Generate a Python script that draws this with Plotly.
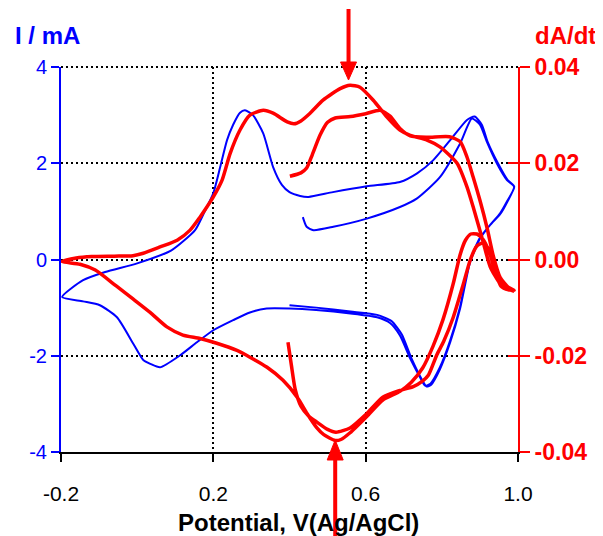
import plotly.graph_objects as go

# ---- data ----
# Cyclic voltammogram (blue, left axis, mA)
cv_potential = [0.435, 0.445, 0.463, 0.515, 0.603, 0.69, 0.735, 0.795, 0.848, 0.879,
                0.90, 0.918, 0.945, 0.971, 0.99, 0.972, 0.953, 0.927, 0.90, 0.874,
                0.848, 0.822, 0.795, 0.770, 0.756, 0.743, 0.717, 0.69, 0.664, 0.63,
                0.56, 0.47, 0.40, 0.34, 0.296, 0.252, 0.20, 0.157, 0.113, 0.06,
                0.035, 0.016, -0.011, -0.053, -0.098, -0.142, -0.197,
                -0.142, -0.084, 0.0, 0.09, 0.152, 0.175, 0.20, 0.218, 0.236,
                0.252, 0.27, 0.283, 0.304, 0.331, 0.357, 0.38, 0.40, 0.428, 0.45,
                0.514, 0.603, 0.69, 0.735, 0.777, 0.822, 0.866, 0.886, 0.905, 0.92,
                0.948, 0.973, 0.99, 0.972, 0.953, 0.927, 0.90, 0.874, 0.848, 0.822,
                0.795, 0.772, 0.760, 0.748, 0.72, 0.695, 0.668, 0.63, 0.56, 0.47, 0.40]
cv_current = [0.88, 0.68, 0.61, 0.68, 0.85, 1.09, 1.27, 1.71, 2.41, 2.93,
              2.80, 2.45, 1.99, 1.65, 1.51, 1.22, 0.96, 0.72, 0.45, -0.02,
              -0.98, -1.68, -2.24, -2.58, -2.62, -2.45, -2.06, -1.58, -1.32, -1.20,
              -1.12, -1.05, -1.02, -1.02, -1.10, -1.26, -1.47, -1.72, -1.99, -2.24,
              -2.17, -2.09, -1.74, -1.20, -0.95, -0.87, -0.78,
              -0.43, -0.26, -0.08, 0.19, 0.61, 0.96, 1.38, 1.92, 2.48,
              2.80, 3.05, 3.10, 3.00, 2.62, 1.92, 1.55, 1.40, 1.32, 1.30,
              1.40, 1.52, 1.61, 1.79, 2.06, 2.48, 2.90, 2.97, 2.80, 2.45,
              1.99, 1.65, 1.52, 1.20, 0.94, 0.72, 0.43, -0.06, -1.02, -1.72,
              -2.28, -2.60, -2.64, -2.50, -2.05, -1.56, -1.28, -1.15, -1.08, -1.00, -0.95]

# Derivative of absorbance (red, right axis)
da_potential = [0.401, 0.43, 0.445, 0.46, 0.48, 0.50, 0.52, 0.56, 0.60, 0.638,
                0.664, 0.69, 0.717, 0.76, 0.82, 0.848, 0.866, 0.882, 0.90, 0.919,
                0.935, 0.953, 0.975, 0.99,
                0.975, 0.955, 0.94, 0.925, 0.908, 0.892, 0.876, 0.862, 0.848, 0.83,
                0.803, 0.777, 0.75, 0.72, 0.69, 0.645, 0.603, 0.559, 0.535, 0.52,
                0.49, 0.472, 0.446, 0.42, 0.383, 0.341, 0.296, 0.262, 0.209, 0.165,
                0.12, 0.078, 0.034, -0.011, -0.055, -0.11, -0.15, -0.198,
                -0.16, -0.12, -0.06, -0.011, 0.016, 0.06, 0.105, 0.139, 0.165, 0.183,
                0.20, 0.223, 0.244, 0.27, 0.296, 0.331, 0.357, 0.394, 0.412, 0.43,
                0.454, 0.488, 0.533, 0.559, 0.585, 0.62, 0.656, 0.69, 0.717, 0.761,
                0.795, 0.84, 0.866, 0.882, 0.908, 0.927, 0.953, 0.975, 0.99,
                0.975, 0.958, 0.945, 0.93, 0.915, 0.905, 0.892, 0.875, 0.855, 0.83,
                0.805, 0.787, 0.765, 0.75, 0.725, 0.69, 0.645, 0.603, 0.559, 0.522,
                0.50, 0.472, 0.45, 0.43, 0.415, 0.405, 0.396]
da_rate = [0.0173, 0.0180, 0.0190, 0.0218, 0.0258, 0.0285, 0.0294, 0.0297, 0.0303, 0.0310,
           0.0298, 0.0272, 0.0257, 0.0254, 0.0255, 0.0245, 0.0213, 0.0172, 0.0123, 0.0065,
           0.0008, -0.0037, -0.0058, -0.0064,
           -0.0063, -0.0055, -0.0025, 0.0015, 0.0042, 0.0053, 0.0053, 0.0040, 0.0010, -0.0050,
           -0.0125, -0.0180, -0.0225, -0.0255, -0.0274, -0.0292, -0.0326, -0.0360, -0.0374, -0.0376,
           -0.0364, -0.0350, -0.0320, -0.0286, -0.0251, -0.0224, -0.0203, -0.0189, -0.0174, -0.0164,
           -0.0157, -0.0140, -0.0110, -0.0082, -0.0055, -0.0022, -0.0010, -0.0004,
           0.0003, 0.0006, 0.0007, 0.0008, 0.0013, 0.0026, 0.0040, 0.0061, 0.0088, 0.0109,
           0.0130, 0.0165, 0.0220, 0.0269, 0.0300, 0.0310, 0.0304, 0.0286, 0.0282, 0.0288,
           0.0304, 0.0331, 0.0355, 0.0362, 0.0358, 0.0331, 0.0296, 0.0269, 0.0258, 0.0248,
           0.0234, 0.0200, 0.0151, 0.0110, 0.0038, -0.0015, -0.0050, -0.0062, -0.0066,
           -0.0062, -0.0050, -0.0020, 0.0012, 0.0030, 0.0034, 0.0028, 0.0000, -0.0055, -0.0120,
           -0.0170, -0.0198, -0.0240, -0.0252, -0.0264, -0.0272, -0.0286, -0.0320, -0.0350, -0.0359,
           -0.0353, -0.0338, -0.0325, -0.0305, -0.0270, -0.0220, -0.0172]

x_ticks = [-0.2, 0.2, 0.6, 1.0]
x_ticktext = ["-0.2", "0.2", "0.6", "1.0"]
i_ticks = [-4, -2, 0, 2, 4]
i_ticktext = ["-4", "-2", "0", "2", "4"]
r_ticks = [-0.04, -0.02, 0.0, 0.02, 0.04]
r_ticktext = ["-0.04", "-0.02", "0.00", "0.02", "0.04"]

# potentials marked by the red arrows (peak of oxidation / reduction in dA/dt)
arrow_potential = [0.555, 0.52]

BLUE = "#0000FF"
RED = "#FF0000"
FONT = "Liberation Sans, Arial, sans-serif"

fig = go.Figure()
fig.add_trace(go.Scatter(x=cv_potential, y=cv_current, mode="lines",
                         line=dict(color=BLUE, width=2, shape="spline", smoothing=0.6),
                         yaxis="y", showlegend=False, hoverinfo="skip"))
fig.add_trace(go.Scatter(x=da_potential, y=da_rate, mode="lines",
                         line=dict(color=RED, width=3.5, shape="spline", smoothing=0.6),
                         yaxis="y2", showlegend=False, hoverinfo="skip"))
fig.add_trace(go.Scatter(x=[], y=[], yaxis="y3", showlegend=False))

DOT = "2px,3px"
grid = dict(showgrid=True, gridcolor="black", gridwidth=2, griddash=DOT)

# the page body has an 8px margin, so the figure is 8px smaller and margins shifted
fig.update_layout(
    width=595, height=528,
    margin=dict(l=53, r=85, t=59, b=84, autoexpand=False),
    paper_bgcolor="white", plot_bgcolor="white",
    font=dict(family=FONT),
    xaxis=dict(range=[-0.2, 1.0], tickmode="array", tickvals=x_ticks, ticktext=x_ticktext,
               showline=True, linecolor="black", linewidth=2,
               ticks="outside", ticklen=8, tickwidth=2, tickcolor="black",
               tickfont=dict(family=FONT, size=21, color="black"),
               zeroline=False, automargin=False, ticklabelstandoff=14, **grid),
    yaxis=dict(range=[-4, 4], tickmode="array", tickvals=i_ticks, ticktext=i_ticktext,
               showline=True, linecolor=BLUE, linewidth=2,
               ticks="outside", ticklen=8, tickwidth=2, tickcolor=BLUE,
               tickfont=dict(family=FONT, size=20, color=BLUE),
               zeroline=False, automargin=False, **grid),
    yaxis2=dict(range=[-0.04, 0.04], overlaying="y", side="right", anchor="x",
                tickmode="array", tickvals=r_ticks, ticktext=r_ticktext,
                showline=True, linecolor=RED, linewidth=2,
                ticks="outside", ticklen=10, tickwidth=2, tickcolor=RED,
                tickfont=dict(family=FONT, size=23, color=RED, weight="bold"),
                showgrid=False, zeroline=False, automargin=False),
    yaxis3=dict(range=[-0.04, 0.04], overlaying="y", side="right", anchor="x",
                tickmode="array", tickvals=r_ticks,
                showline=False, ticks="inside", ticklen=10, tickwidth=2, tickcolor=RED,
                showticklabels=False, showgrid=False, zeroline=False, automargin=False),
)

# dotted grid line along the top edge of the plot
fig.add_shape(type="line", xref="paper", yref="paper", x0=0, x1=1, y0=1, y1=1,
              line=dict(color="black", width=2, dash=DOT), layer="below")

# axis titles
fig.add_annotation(text="<b>I / mA</b>", xref="paper", yref="paper", x=-0.105, y=1.083,
                   xanchor="left", yanchor="middle", showarrow=False,
                   font=dict(family=FONT, size=24, color=BLUE))
fig.add_annotation(text="<b>dA/dt</b>", xref="paper", yref="paper", x=1.033, y=1.083,
                   xanchor="left", yanchor="middle", showarrow=False,
                   font=dict(family=FONT, size=24, color=RED))
fig.add_annotation(text="<b>Potential, V(Ag/AgCl)</b>", xref="paper", yref="paper",
                   x=0.52, y=-0.183, xanchor="center", yanchor="middle", showarrow=False,
                   font=dict(family=FONT, size=24, color="black"))

# red arrows (shaft + head), anchored at the marked potentials
top_x, bottom_x = arrow_potential
fig.add_shape(type="line", xref="x", yref="paper", xsizemode="pixel", ysizemode="pixel",
              xanchor=top_x, yanchor=1, x0=0, x1=0, y0=58, y1=2,
              line=dict(color=RED, width=4))
fig.add_shape(type="path", xref="x", yref="paper", xsizemode="pixel", ysizemode="pixel",
              xanchor=top_x, yanchor=1, path="M -8 5 L 8 5 L 0 -13 Z",
              fillcolor=RED, line=dict(color=RED, width=1))
fig.add_shape(type="line", xref="x", yref="paper", xsizemode="pixel", ysizemode="pixel",
              xanchor=bottom_x, yanchor=0, x0=0, x1=0, y0=-6, y1=-90,
              line=dict(color=RED, width=4))
fig.add_shape(type="path", xref="x", yref="paper", xsizemode="pixel", ysizemode="pixel",
              xanchor=bottom_x, yanchor=0, path="M -8 -8 L 8 -8 L 0 12 Z",
              fillcolor=RED, line=dict(color=RED, width=1))

fig.write_html("out.html")
